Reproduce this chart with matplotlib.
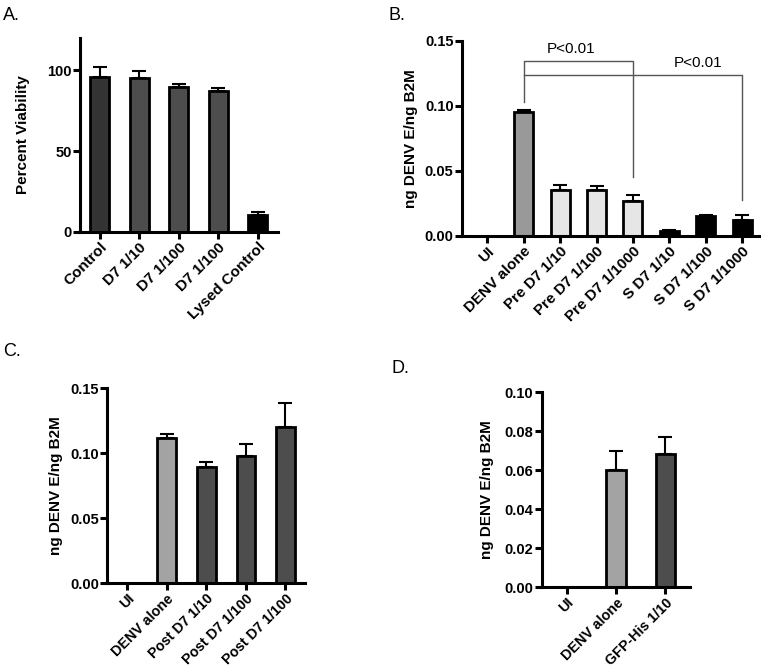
import numpy as np
import matplotlib
matplotlib.use("Agg")
import matplotlib.pyplot as plt

plt.rcParams['font.family'] = ['Liberation Sans', 'DejaVu Sans']

# ---- panel A data ----
a_labels = ["Control", "D7 1/10", "D7 1/100", "D7 1/100", "Lysed Control"]
a_values = [96.0, 95.5, 90.0, 87.0, 10.5]
a_errors = [6.0, 4.0, 1.5, 1.8, 2.0]
a_colors = ["#333333", "#4d4d4d", "#4d4d4d", "#4d4d4d", "#000000"]

# ---- panel B data ----
b_labels = ["UI", "DENV alone", "Pre D7 1/10", "Pre D7 1/100", "Pre D7 1/1000",
            "S D7 1/10", "S D7 1/100", "S D7 1/1000"]
b_values = [0.0, 0.0955, 0.035, 0.035, 0.027, 0.004, 0.0155, 0.0125]
b_errors = [0.0, 0.001, 0.004, 0.003, 0.0045, 0.0005, 0.0005, 0.0035]
b_colors = ["#ffffff", "#999999", "#e6e6e6", "#e6e6e6", "#e6e6e6",
            "#000000", "#000000", "#000000"]

# ---- panel C data ----
c_labels = ["UI", "DENV alone", "Post D7 1/10", "Post D7 1/100", "Post D7 1/100"]
c_values = [0.0, 0.112, 0.089, 0.0975, 0.120]
c_errors = [0.0, 0.0025, 0.0045, 0.0095, 0.0185]
c_colors = ["#ffffff", "#a3a3a3", "#4d4d4d", "#4d4d4d", "#4d4d4d"]

# ---- panel D data ----
d_labels = ["UI", "DENV alone", "GFP-His 1/10"]
d_values = [0.0, 0.060, 0.0685]
d_errors = [0.0, 0.010, 0.0085]
d_colors = ["#ffffff", "#a3a3a3", "#4d4d4d"]


def prism_bars(ax, labels, values, errors, colors, width, xlim, ylim, yticks,
               ylabel, yfmt, xfs=11, lpad=5):
    x = np.arange(len(labels))
    for xi, v, e, c in zip(x, values, errors, colors):
        if v <= 0:
            continue
        ax.errorbar(xi, v, yerr=[[0], [e]], fmt='none', ecolor='black',
                    elinewidth=1.5, capsize=5, capthick=1.5, zorder=1)
        ax.bar(xi, v, width=width, color=c, edgecolor='black', linewidth=2.0,
               zorder=2)
    ax.set_xlim(*xlim)
    ax.set_ylim(*ylim)
    ax.set_yticks(yticks)
    ax.set_yticklabels([yfmt.format(t) for t in yticks], fontweight='bold',
                       fontsize=10.5)
    ax.set_xticks(x)
    ax.set_xticklabels(labels, rotation=45, ha='right', rotation_mode='anchor',
                       fontweight='bold', fontsize=xfs)
    ax.set_ylabel(ylabel, fontweight='bold', fontsize=11, labelpad=lpad)
    for s in ['top', 'right']:
        ax.spines[s].set_visible(False)
    for s in ['left', 'bottom']:
        ax.spines[s].set_linewidth(2.2)
    ax.tick_params(axis='both', direction='out', length=5, width=2.2, pad=1)
    ax.patch.set_alpha(0)


fig = plt.figure(figsize=(7.61, 6.68), dpi=100)

axA = fig.add_axes([0.105, 0.653, 0.260, 0.290])
prism_bars(axA, a_labels, a_values, a_errors, a_colors, 0.48, (-0.5, 4.5),
           (0, 120), [0, 50, 100], "Percent Viability", "{:.0f}", lpad=12)

axB = fig.add_axes([0.607, 0.647, 0.392, 0.292])
prism_bars(axB, b_labels, b_values, b_errors, b_colors, 0.52, (-0.7, 7.5),
           (0, 0.15), [0.0, 0.05, 0.10, 0.15], "ng DENV E/ng B2M", "{:.2f}")

# significance brackets in panel B
br_col = '#555555'
axB.plot([1, 1, 4, 4], [0.103, 0.1345, 0.1345, 0.0455], color=br_col, lw=1.0,
         clip_on=False)
axB.plot([1, 7, 7], [0.1238, 0.1238, 0.0275], color=br_col, lw=1.0,
         clip_on=False)
axB.text(2.3, 0.1385, "P<0.01", fontsize=11, ha='center', va='bottom')
axB.text(5.8, 0.1272, "P<0.01", fontsize=11, ha='center', va='bottom')

axC = fig.add_axes([0.141, 0.127, 0.260, 0.292])
prism_bars(axC, c_labels, c_values, c_errors, c_colors, 0.47, (-0.5, 4.5),
           (0, 0.15), [0.0, 0.05, 0.10, 0.15], "ng DENV E/ng B2M", "{:.2f}",
           xfs=10.3)

axD = fig.add_axes([0.712, 0.121, 0.195, 0.292])
prism_bars(axD, d_labels, d_values, d_errors, d_colors, 0.39, (-0.5, 2.5),
           (0, 0.10), [0.0, 0.02, 0.04, 0.06, 0.08, 0.10], "ng DENV E/ng B2M",
           "{:.2f}", xfs=10.3, lpad=8)

# panel letters
fig.text(0.004, 0.990, "A.", fontsize=13, va='top')
fig.text(0.510, 0.990, "B.", fontsize=13, va='top')
fig.text(0.004, 0.486, "C.", fontsize=13, va='top')
fig.text(0.515, 0.461, "D.", fontsize=13, va='top')

fig.savefig("out.png", dpi=100)
plt.close(fig)
